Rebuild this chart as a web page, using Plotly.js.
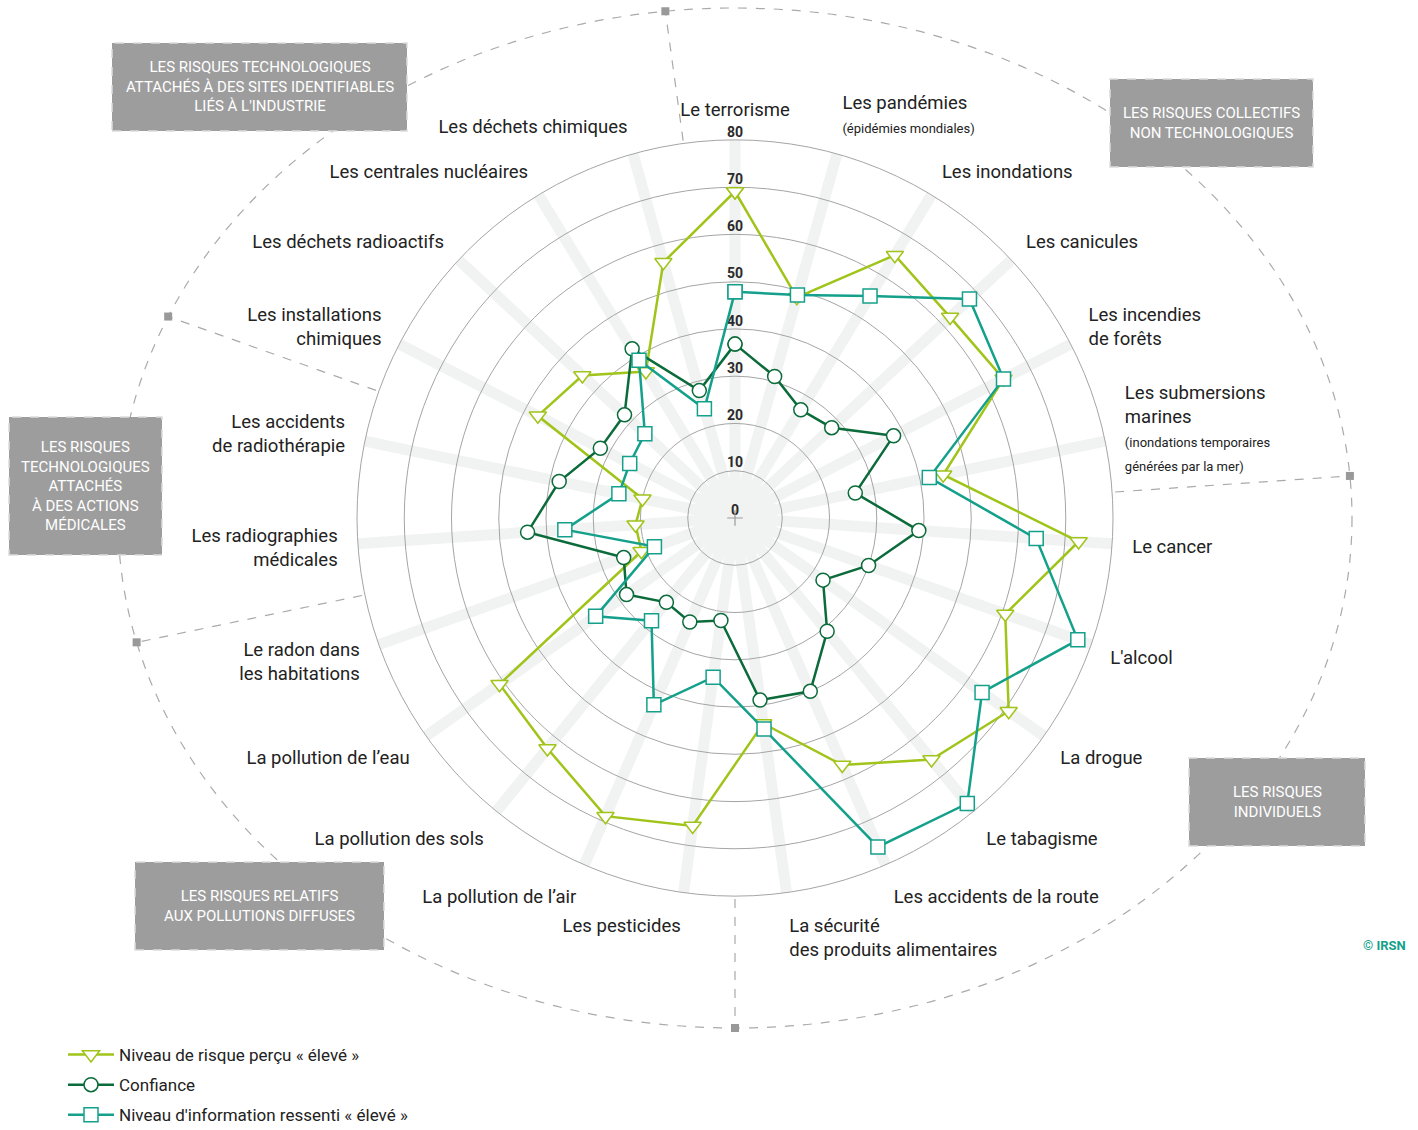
<!DOCTYPE html>
<html>
<head>
<meta charset="utf-8">
<script src="https://cdn.plot.ly/plotly-3.0.1.min.js"></script>
<style>html, body { margin: 0; padding: 0; background: #fff; }</style>
</head>
<body>
<div id="radar_plot" style="width:1418px;height:1130px;"></div>
<script>
// categories, clockwise from the top
var categories = [
    'Le terrorisme',
    'Les pandémies<br><span style="font-size:13px">(épidémies mondiales)</span>',
    'Les inondations',
    'Les canicules',
    'Les incendies<br>de forêts',
    'Les submersions<br>marines<br><span style="font-size:13px">(inondations temporaires</span><br><span style="font-size:13px">générées par la mer)</span>',
    'Le cancer',
    "L'alcool",
    'La drogue',
    'Le tabagisme',
    'Les accidents de la route',
    'La sécurité<br>des produits alimentaires',
    'Les pesticides',
    'La pollution de l’air',
    'La pollution des sols',
    'La pollution de l’eau',
    'Le radon dans<br>les habitations',
    'Les radiographies<br>médicales',
    'Les accidents<br>de radiothérapie',
    'Les installations<br>chimiques',
    'Les déchets radioactifs',
    'Les centrales nucléaires',
    'Les déchets chimiques'
];

var risque_eleve = [69.1, 48.5, 65.1, 62.3, 64.0, 45.0, 72.9, 60.7, 70.9, 65.9, 57.0, 43.9,
                    65.8, 68.8, 62.9, 61.0, 21.0, 21.1, 20.0, 47.0, 44.2, 36.3, 56.2];
var confiance = [36.8, 31.1, 26.8, 28.0, 37.8, 26.0, 39.0, 30.0, 22.8, 30.9, 40.0, 38.9,
                 21.9, 24.0, 23.0, 28.1, 25.0, 44.0, 38.0, 32.1, 32.0, 41.9, 28.0];
var information = [47.9, 49.0, 55.0, 67.9, 64.0, 42.0, 63.9, 77.0, 64.0, 77.9, 75.9, 45.1,
                   34.0, 43.1, 28.0, 36.1, 18.1, 36.1, 25.1, 25.1, 26.1, 39.1, 24.0];

var ring_ticks = [0, 10, 20, 30, 40, 50, 60, 70, 80];

// last category index of each group
var group_ends = [5, 11, 16, 18, 22];
var group_names = [
    'LES RISQUES COLLECTIFS<br>NON TECHNOLOGIQUES',
    'LES RISQUES<br>INDIVIDUELS',
    'LES RISQUES RELATIFS<br>AUX POLLUTIONS DIFFUSES',
    'LES RISQUES<br>TECHNOLOGIQUES<br>ATTACHÉS<br>À DES ACTIONS<br>MÉDICALES',
    'LES RISQUES TECHNOLOGIQUES<br>ATTACHÉS À DES SITES IDENTIFIABLES<br>LIÉS À L\'INDUSTRIE'
];
// box corners in pixels [x0, y0, x1, y1]
var group_boxes = [
    [1110, 79, 1313, 167],
    [1189, 758, 1365, 846],
    [135, 862, 384, 950],
    [9, 417, 162, 555],
    [112, 43, 407, 131]
];

var W = 1418, H = 1130;
var cx = 735, cy = 518, ringR = 378, ellA = 617, ellB = 510;
function px(x) { return x / W; }
function py(y) { return 1 - y / H; }

function closeLoop(a) { return a.concat([a[0]]); }

var theta = closeLoop(categories);

var ticks_labels = {
    type: 'scatterpolar',
    r: ring_ticks,
    theta: ring_ticks.map(function() { return categories[0]; }),
    text: ring_ticks.map(String),
    mode: 'text',
    textposition: 'top center',
    textfont: { family: 'Roboto', size: 14, color: '#2a2a2a', weight: 'bold' },
    cliponaxis: false,
    showlegend: false,
    hoverinfo: 'skip'
};

var centre = {
    type: 'scatterpolar',
    r: [0],
    theta: [categories[0]],
    mode: 'markers',
    marker: { symbol: 'cross-thin', size: 11, line: { color: '#999', width: 1.2 } },
    showlegend: false,
    hoverinfo: 'skip'
};

var tr_risque = {
    type: 'scatterpolar',
    r: closeLoop(risque_eleve),
    theta: theta,
    mode: 'lines+markers',
    name: 'Niveau de risque perçu « élevé »',
    legendgroup: 'a',
    line: { color: '#a0c41a', width: 2.5 },
    marker: { symbol: 'triangle-down', size: 15, color: '#fff', line: { color: '#a0c41a', width: 1.5 } }
};

var tr_confiance = {
    type: 'scatterpolar',
    r: closeLoop(confiance),
    theta: theta,
    mode: 'lines+markers',
    name: 'Confiance',
    legendgroup: 'b',
    line: { color: '#0b6b3a', width: 2.5 },
    marker: { symbol: 'circle', size: 14, color: '#fff', line: { color: '#0b6b3a', width: 1.5 } }
};

var tr_information = {
    type: 'scatterpolar',
    r: closeLoop(information),
    theta: theta,
    mode: 'lines+markers',
    name: 'Niveau d\'information ressenti « élevé »',
    legendgroup: 'c',
    line: { color: '#14a08b', width: 2.5 },
    marker: { symbol: 'square', size: 14, color: '#fff', line: { color: '#14a08b', width: 1.5 } }
};

var data = [ticks_labels, centre, tr_risque, tr_confiance, tr_information];

// dashed ellipse, separators and group boxes
var shapes = [{
    type: 'circle', xref: 'paper', yref: 'paper',
    x0: px(cx - ellA), x1: px(cx + ellA), y0: py(cy + ellB), y1: py(cy - ellB),
    line: { color: '#aaa', width: 1.2, dash: 'dash' }, layer: 'below'
}];
var N = categories.length;
group_ends.forEach(function(e) {
    var b = (e + 0.5) * 2 * Math.PI / N;
    var sx = Math.sin(b), sy = -Math.cos(b);
    var t = 1 / Math.sqrt(Math.pow(sx / ellA, 2) + Math.pow(sy / ellB, 2));
    var x1 = cx + sx * t, y1 = cy + sy * t;
    shapes.push({
        type: 'line', xref: 'paper', yref: 'paper',
        x0: px(cx + sx * (ringR + 3)), y0: py(cy + sy * (ringR + 3)),
        x1: px(x1), y1: py(y1),
        line: { color: '#aaa', width: 1.2, dash: 'dash' }
    });
    shapes.push({
        type: 'rect', xref: 'paper', yref: 'paper',
        x0: px(x1 - 4), x1: px(x1 + 4), y0: py(y1 + 4), y1: py(y1 - 4),
        fillcolor: '#999', line: { width: 0 }
    });
});

var annotations = [];
group_boxes.forEach(function(bx, i) {
    shapes.push({
        type: 'rect', xref: 'paper', yref: 'paper',
        x0: px(bx[0]), x1: px(bx[2]), y0: py(bx[3]), y1: py(bx[1]),
        fillcolor: '#9d9d9d', line: { color: '#dcdcdc', width: 1.5, dash: 'dash' }
    });
    annotations.push({
        xref: 'paper', yref: 'paper',
        x: px((bx[0] + bx[2]) / 2), y: py((bx[1] + bx[3]) / 2),
        xanchor: 'center', yanchor: 'middle',
        text: group_names[i], showarrow: false, align: 'center',
        font: { family: 'Roboto', size: 15, color: '#fff' }
    });
});

annotations.push({
    xref: 'paper', yref: 'paper', x: px(1408), y: py(945),
    xanchor: 'right', yanchor: 'middle',
    text: '© IRSN', showarrow: false,
    font: { family: 'Roboto', size: 13, color: '#14a08b', weight: 'bold' }
});

var layout = {
    width: W,
    height: H,
    margin: { l: 0, r: 0, t: 0, b: 0, autoexpand: false },
    paper_bgcolor: '#fff',
    font: { family: 'Roboto', color: '#222' },
    showlegend: true,
    legend: {
        x: px(63), y: py(1133), xanchor: 'left', yanchor: 'bottom',
        font: { family: 'Roboto', size: 17, color: '#222' },
        itemwidth: 46,
        tracegroupgap: 5,
        bgcolor: 'rgba(0,0,0,0)'
    },
    polar: {
        domain: { x: [px(cx - ringR), px(cx + ringR)], y: [py(cy + ringR), py(cy - ringR)] },
        bgcolor: '#fff',
        radialaxis: {
            range: [0, 80], tick0: 0, dtick: 10,
            showticklabels: false, ticks: '', showline: false,
            gridcolor: '#a5a5a5', gridwidth: 1
        },
        angularaxis: {
            type: 'category',
            rotation: 90,
            direction: 'clockwise',
            showline: true, linecolor: '#a5a5a5', linewidth: 1,
            gridcolor: '#f1f2f2', gridwidth: 11,
            ticks: 'outside', ticklen: 16, tickcolor: 'rgba(0,0,0,0)',
            tickfont: { family: 'Roboto', size: 18.5, color: '#222' }
        }
    },
    shapes: shapes,
    annotations: annotations
};

Plotly.newPlot('radar_plot', data, layout, { displayModeBar: false });
</script>
</body>
</html>
